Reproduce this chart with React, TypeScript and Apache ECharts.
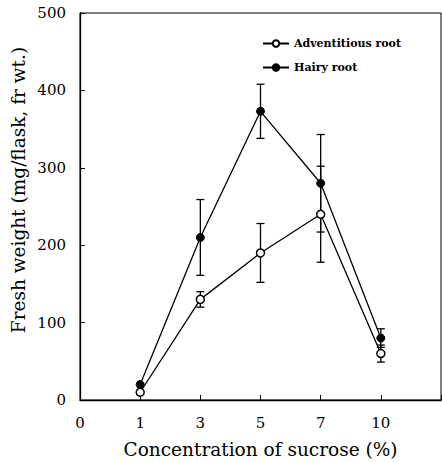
import React, { useEffect, useRef } from "react";
import * as echarts from "echarts";

const tickLabels = ["0", "1", "3", "5", "7", "10"];
const concentrations = ["1", "3", "5", "7", "10"];
const adventitious = [10, 130, 190, 240, 60];
const adventitiousErr = [0, 10, 38, 62, 11];
const hairy = [20, 210, 373, 280, 80];
const hairyErr = [0, 49, 35, 63, 12];
const yTicks = [0, 100, 200, 300, 400, 500];

const FONT = "DejaVu Serif";

export default function App() {
  const ref = useRef<HTMLDivElement>(null);
  useEffect(() => {
    if (!ref.current) return;
    const chart = echarts.init(ref.current, null, { renderer: "svg" });
    const xi = (c: string) => tickLabels.indexOf(c);
    const pts = (vals: number[]) => concentrations.map((c, i) => [xi(c), vals[i]]);
    const errs = (vals: number[], e: number[]) =>
      concentrations
        .map((c, i) => [xi(c), vals[i] - e[i], vals[i] + e[i]])
        .filter((d, i) => e[i] > 0);
    const renderErr = (params: any, api: any) => {
      const x = api.value(0);
      const lo = api.coord([x, api.value(1)]);
      const hi = api.coord([x, api.value(2)]);
      const w = 4;
      const st = { stroke: "#000", lineWidth: 1.3 };
      return {
        type: "group",
        children: [
          { type: "line", shape: { x1: lo[0], y1: lo[1], x2: hi[0], y2: hi[1] }, style: st },
          { type: "line", shape: { x1: lo[0] - w, y1: lo[1], x2: lo[0] + w, y2: lo[1] }, style: st },
          { type: "line", shape: { x1: hi[0] - w, y1: hi[1], x2: hi[0] + w, y2: hi[1] }, style: st },
        ],
      };
    };
    chart.setOption({
      animation: false,
      grid: {
        left: 80,
        top: 13,
        right: 1,
        bottom: 62,
        show: true,
        borderColor: "#000",
        borderWidth: 1,
        containLabel: false,
        outerBoundsMode: "none",
      },
      legend: {
        orient: "vertical",
        left: 257,
        top: 33,
        itemGap: 13,
        itemWidth: 26,
        itemHeight: 8,
        data: ["Adventitious root", "Hairy root"],
        textStyle: { fontFamily: FONT, fontWeight: "bold", fontSize: 11, color: "#000" },
      },
      xAxis: {
        type: "value",
        min: 0,
        max: 6,
        interval: 1,
        name: "Concentration of sucrose (%)",
        nameLocation: "middle",
        nameGap: 40,
        nameTextStyle: { fontFamily: FONT, fontSize: 18.5, color: "#000" },
        axisLine: { lineStyle: { color: "#000", width: 1.3 } },
        axisTick: { inside: true, length: 5, lineStyle: { color: "#000" } },
        axisLabel: {
          margin: 15,
          fontFamily: FONT,
          fontSize: 15,
          color: "#000",
          formatter: (v: number) => tickLabels[v] ?? "",
        },
        splitLine: { show: false },
      },
      yAxis: {
        type: "value",
        min: yTicks[0],
        max: yTicks[yTicks.length - 1],
        interval: 100,
        axisLine: { show: true, lineStyle: { color: "#000", width: 1.3 } },
        axisTick: { show: true, inside: true, length: 5, lineStyle: { color: "#000" } },
        axisLabel: { margin: 14, fontFamily: FONT, fontSize: 15, color: "#000" },
        splitLine: { show: false },
      },
      graphic: [
        {
          type: "text",
          x: 18,
          y: 190,
          rotation: Math.PI / 2,
          style: {
            text: "Fresh weight (mg/flask, fr wt.)",
            fontFamily: FONT,
            fontSize: 18.5,
            fill: "#000",
            align: "center",
            verticalAlign: "middle",
          },
        },
      ],
      series: [
        {
          type: "custom",
          renderItem: renderErr,
          data: errs(hairy, hairyErr),
          z: 1,
        },
        {
          type: "custom",
          renderItem: renderErr,
          data: errs(adventitious, adventitiousErr),
          z: 1,
        },
        {
          name: "Hairy root",
          type: "line",
          data: pts(hairy),
          symbol: "circle",
          symbolSize: 8,
          lineStyle: { color: "#000", width: 1.3 },
          itemStyle: { color: "#000", borderColor: "#000", borderWidth: 1 },
          z: 3,
        },
        {
          name: "Adventitious root",
          type: "line",
          data: pts(adventitious),
          symbol: "circle",
          symbolSize: 8,
          lineStyle: { color: "#000", width: 1.3 },
          itemStyle: { color: "#fff", borderColor: "#000", borderWidth: 1.5 },
          z: 4,
        },
      ],
    });
    return () => chart.dispose();
  }, []);
  return <div ref={ref} style={{ width: 442, height: 462, position: "absolute", left: 0, top: 0, background: "#fff" }} />;
}
